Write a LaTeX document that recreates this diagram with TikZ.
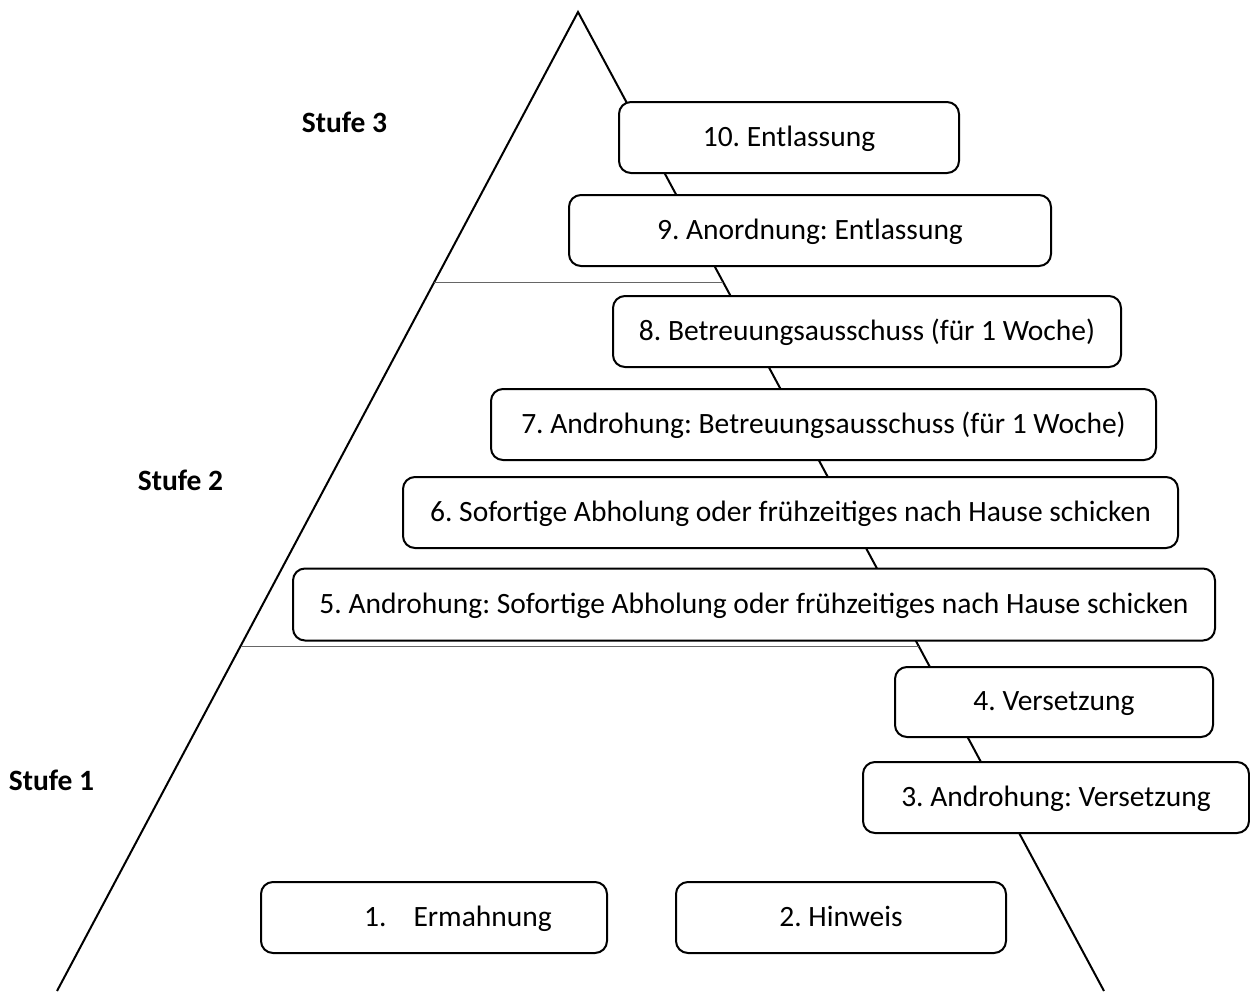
\documentclass[tikz,border=0pt]{standalone}
\usepackage{fontspec}
\setmainfont{Carlito}
\usetikzlibrary{calc}
\frenchspacing
\begin{document}
\begin{tikzpicture}[x=1pt,y=-1pt,
  stepbox/.style={draw=black,line width=2pt,rounded corners=12pt,fill=white,
    inner sep=0pt,minimum height=71pt,text height=23pt,text depth=6pt,
    font=\fontsize{29.5}{34}\selectfont},
  levellabel/.style={font=\fontsize{29.5}{34}\selectfont\bfseries,inner sep=0pt},
  edge/.style={draw=black,line width=2pt},
  divider/.style={draw=black!60,line width=1pt}]
\useasboundingbox (0,0) rectangle (1250,991);
\coordinate (apex) at (578,12);
\coordinate (bl) at (57,991);
\coordinate (br) at (1104,991);
\draw[edge] (bl) -- (apex) -- (br);
\draw[divider] ($(apex)!0.2758!(bl)$) coordinate (d1l) -- ($(apex)!0.2758!(br)$) coordinate (d1r);
\draw[divider] ($(apex)!0.6476!(bl)$) coordinate (d2l) -- ($(apex)!0.6476!(br)$) coordinate (d2r);

\node[stepbox,minimum width=340pt] (b10) at (789,137.5) {10. Entlassung};
\node[stepbox,minimum width=482pt] (b9) at (810,230.5) {9. Anordnung: Entlassung};
\node[stepbox,minimum width=508pt] (b8) at (867,331.5) {8. Betreuungsausschuss (für 1 Woche)};
\node[stepbox,minimum width=665pt] (b7) at (823.5,424.5) {7. Androhung: Betreuungsausschuss (für 1 Woche)};
\node[stepbox,minimum width=775pt] (b6) at (790.5,512.5) {6. Sofortige Abholung oder frühzeitiges nach Hause schicken};
\node[stepbox,minimum width=922pt,minimum height=72pt] (b5) at (754,604.5) {5. Androhung: Sofortige Abholung oder frühzeitiges nach Hause schicken};
\node[stepbox,minimum width=318pt,minimum height=70pt] (b4) at (1054,702) {4. Versetzung};
\node[stepbox,minimum width=386pt] (b3) at (1056,797.5) {3. Androhung: Versetzung};
\node[stepbox,minimum width=346pt] (b1) at (434,917.5) {\hspace*{48pt}1.\hspace{27pt}Ermahnung};
\node[stepbox,minimum width=330pt] (b2) at (841,917.5) {2. Hinweis};

\node[levellabel] (s3) at (344.5,122) {Stufe 3};
\node[levellabel] (s2) at (180.5,480) {Stufe 2};
\node[levellabel] (s1) at (51.5,780) {Stufe 1};
\end{tikzpicture}
\end{document}
